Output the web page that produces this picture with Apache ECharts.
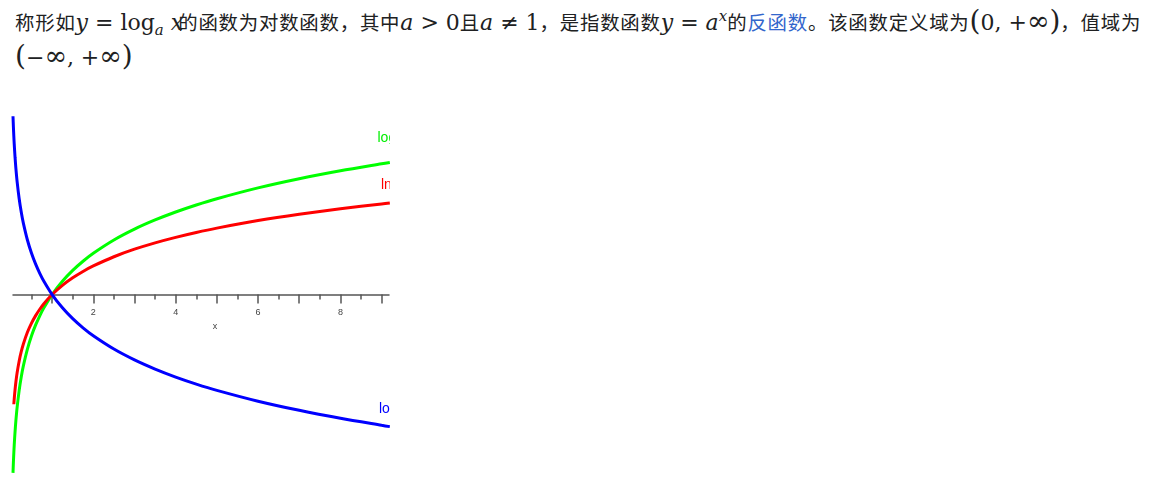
<!DOCTYPE html>
<html><head><meta charset="utf-8">
<script src="https://cdn.jsdelivr.net/npm/echarts@6/dist/echarts.min.js"></script>
<style>
html,body{margin:0;padding:0;background:#fff;width:1174px;height:500px;overflow:hidden}
.p{position:absolute;left:15px;font-family:"Noto Sans CJK SC",sans-serif;font-size:19.4px;color:#202122;white-space:nowrap;line-height:30px;letter-spacing:0.8px;text-spacing-trim:space-all}
.m{font-family:"DejaVu Serif","Liberation Serif",serif;font-size:22px;letter-spacing:0}
.i{font-style:italic}
.sub{font-size:15px;font-style:italic;position:relative;top:5px;line-height:0}
.sup{font-size:15px;font-style:italic;position:relative;top:-9px;line-height:0}
.bp{font-size:28px;font-weight:300}
.inf{font-size:27px;line-height:0}
a{color:#3366cc;text-decoration:none}
#chart{position:absolute;left:0;top:100px;width:390px;height:380px;overflow:hidden}
</style></head>
<body>
<div class="p" style="top:6px">称形如<span class="m"><span class="i">y</span> = log<span class="sub">a</span> <span class="i">x</span></span><span style="margin-left:-5px">的函数为对数函数，其中</span><span class="m"><span class="i">a</span> &gt; 0</span>且<span class="m"><span class="i">a</span> ≠ 1</span>，是指数函数<span class="m"><span class="i">y</span> = <span class="i">a</span><span class="sup">x</span></span>的<a>反函数</a>。该函数定义域为<span class="m"><span class="bp">(</span>0, +<span class="inf">∞</span><span class="bp">)</span></span>，值域为</div>
<div class="p" style="top:41px"><span class="m"><span class="bp">(</span>−<span class="inf">∞</span>, +<span class="inf">∞</span><span class="bp">)</span></span></div>
<div id="chart"></div>
<script>
// sample x positions along the curves
const xValues = [0.05, 0.06, 0.07, 0.08, 0.1, 0.12, 0.15, 0.2, 0.25, 0.3, 0.4, 0.5, 0.6, 0.7, 0.8, 1, 1.25, 1.5, 1.75, 2, 2.5, 3, 3.5, 4, 4.5, 5, 6, 7, 8, 9, 9.2];
// log2 x (green)
const log2Values = [-4.322, -4.059, -3.837, -3.644, -3.322, -3.059, -2.737, -2.322, -2.0, -1.737, -1.322, -1.0, -0.737, -0.515, -0.322, 0, 0.322, 0.585, 0.807, 1.0, 1.322, 1.585, 1.807, 2.0, 2.170, 2.322, 2.585, 2.807, 3.0, 3.170, 3.202];
// ln x (red)
const lnValues = [null, null, -2.659, -2.526, -2.303, -2.120, -1.897, -1.609, -1.386, -1.204, -0.916, -0.693, -0.511, -0.357, -0.223, 0, 0.223, 0.405, 0.560, 0.693, 0.916, 1.099, 1.253, 1.386, 1.504, 1.609, 1.792, 1.946, 2.079, 2.197, 2.219];
// log_{1/2} x (blue)
const logHalfValues = [4.322, 4.059, 3.837, 3.644, 3.322, 3.059, 2.737, 2.322, 2.0, 1.737, 1.322, 1.0, 0.737, 0.515, 0.322, 0, -0.322, -0.585, -0.807, -1.0, -1.322, -1.585, -1.807, -2.0, -2.170, -2.322, -2.585, -2.807, -3.0, -3.170, -3.202];
const majorTicks = [1, 2, 3, 4, 5, 6, 7, 8, 9];
const minorTicks = [0.5, 1.5, 2.5, 3.5, 4.5, 5.5, 6.5, 7.5, 8.5];
const tickLabels = [2, 4, 6, 8];
const seriesNames = ['log₂ x', 'ln x', 'log½ x'];
const seriesColors = ['#00ff00', '#ff0000', '#0000ff'];
const xRange = [0.05, 9.18];
const yRange = [-4.35, 4.4];

const pairs = vals => xValues.map((x, i) => [x, vals[i]]);
const chartEl = document.getElementById('chart');
const chart = echarts.init(chartEl, null, {renderer: 'canvas'});
const gridBox = {left: 13, right: 1, top: 13, bottom: 6};
const gridH = chartEl.clientHeight - gridBox.top - gridBox.bottom;
// place x axis at y = 0 by offsetting from the grid bottom
const axisOffset = -(0 - yRange[0]) / (yRange[1] - yRange[0]) * gridH;
const tickStyle = {color: '#555', width: 1.5};
chart.setOption({
  animation: false,
  grid: Object.assign({outerBoundsMode: 'none', containLabel: false}, gridBox),
  xAxis: [
    {type: 'value', min: xRange[0], max: xRange[1], position: 'bottom', offset: axisOffset,
     name: 'x', nameLocation: 'middle', nameGap: 27,
     nameTextStyle: {fontSize: 9, color: '#444', fontFamily: 'Liberation Sans', padding: [0, 0, 0, 28]},
     axisLine: {onZero: false, lineStyle: tickStyle},
     axisTick: {customValues: majorTicks, length: 9, lineStyle: tickStyle},
     axisLabel: {customValues: tickLabels, fontSize: 9, color: '#444', margin: 13, fontFamily: 'Liberation Sans'},
     splitLine: {show: false}},
    {type: 'value', min: xRange[0], max: xRange[1], position: 'bottom', offset: axisOffset,
     axisLine: {show: false, onZero: false},
     axisTick: {customValues: minorTicks, length: 5, lineStyle: tickStyle},
     axisLabel: {show: false}, splitLine: {show: false}}
  ],
  yAxis: {type: 'value', min: yRange[0], max: yRange[1], show: false},
  series: [log2Values, lnValues, logHalfValues].map((v, k) => ({
    type: 'line', name: seriesNames[k], data: pairs(v), smooth: 0.3, symbol: 'none',
    lineStyle: {color: seriesColors[k], width: 3}, clip: true
  })),
  graphic: [
    {type: 'text', left: 377.5, top: 31.5, style: {text: seriesNames[0], fill: '#00ee00', font: '14px "Liberation Sans"'}},
    {type: 'text', left: 381, top: 78, style: {text: seriesNames[1], fill: '#ff0000', font: '14px "Liberation Sans"'}},
    {type: 'text', left: 379, top: 302, style: {text: seriesNames[2], fill: '#0000ff', font: '14px "Liberation Sans"'}}
  ]
});
</script>
</body></html>
